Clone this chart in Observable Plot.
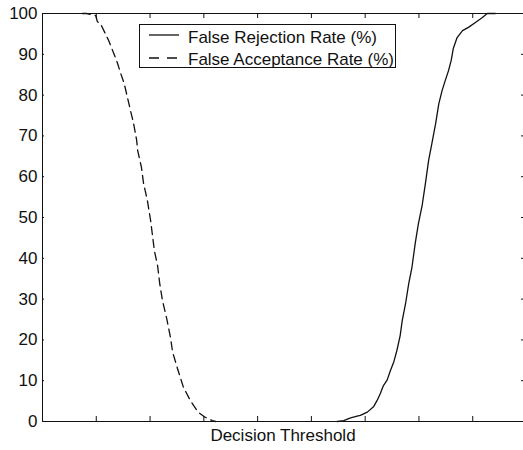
<!DOCTYPE html>
<html>
<head>
<meta charset="utf-8">
<script src="https://cdn.jsdelivr.net/npm/d3@7"></script>
<script src="https://cdn.jsdelivr.net/npm/@observablehq/plot@0.6"></script>
<style>
  html, body { margin: 0; padding: 0; background: #fff; }
  #wrap { position: relative; width: 523px; height: 450px; overflow: hidden; }
  #legend { position: absolute; left: 139px; top: 24px; }
</style>
</head>
<body>
<div id="wrap"><div id="chart"></div><div id="legend"></div></div>
<script>
// Tick positions
const xTicks = [0, 1, 2, 3, 4, 5, 6, 7, 8, 9];
const yTicks = [0, 10, 20, 30, 40, 50, 60, 70, 80, 90, 100];

// False Acceptance Rate (%) — dashed
const farThreshold = [0.74, 0.82, 0.99, 1.02, 1.08, 1.17, 1.23, 1.32, 1.39, 1.45, 1.52, 1.58, 1.64, 1.69, 1.75, 1.77, 1.84, 1.88, 1.95, 2.01, 2.05, 2.08, 2.14, 2.18, 2.23, 2.31, 2.38, 2.42, 2.51, 2.62, 2.75, 2.90, 3.03, 3.16, 3.22];
const farValue     = [100, 100, 99.5, 98, 97.5, 95, 93.4, 90.4, 88, 85.5, 82.8, 79.4, 76, 73.3, 69, 66.4, 62.3, 58.3, 54.2, 49.3, 45.1, 41.9, 38.2, 33.8, 29.7, 25.2, 20.6, 17, 13, 8.4, 5.1, 2.2, 1, 0.2, 0];

// False Rejection Rate (%) — solid
const frrThreshold = [5.48, 5.60, 5.73, 5.85, 5.91, 6.04, 6.16, 6.22, 6.28, 6.34, 6.41, 6.47, 6.53, 6.59, 6.65, 6.69, 6.75, 6.81, 6.87, 6.93, 6.99, 7.06, 7.12, 7.18, 7.24, 7.31, 7.37, 7.43, 7.49, 7.55, 7.60, 7.64, 7.71, 7.81, 7.92, 8.05, 8.18, 8.27, 8.42];
const frrValue     = [0, 0.2, 0.9, 1.3, 1.5, 2.3, 3.7, 5.1, 6.8, 8.8, 10.2, 12.5, 14.5, 17.4, 21, 24.8, 28.8, 33.8, 37.8, 43.6, 48.5, 53, 58.3, 64, 68.1, 73, 77.9, 81.1, 83.6, 86, 88.5, 91.5, 94.1, 95.8, 96.6, 97.8, 99, 100, 100];

const xLabel = "Decision Threshold";
const seriesNames = ["False Rejection Rate (%)", "False Acceptance Rate (%)"];

const far = farThreshold.map((t, i) => ({t, v: farValue[i]}));
const frr = frrThreshold.map((t, i) => ({t, v: frrValue[i]}));

const ink = "#111";
const chart = Plot.plot({
  width: 523,
  height: 450,
  marginTop: 13,
  marginBottom: 29,
  marginLeft: 42,
  marginRight: 0,
  style: {fontFamily: "'Liberation Sans', Arial, sans-serif", fontSize: "17px", color: ink, background: "#fff"},
  x: {domain: [0, 9], range: [42, 526], axis: null},
  y: {domain: [0, 100], axis: null},
  marks: [
    Plot.frame({stroke: ink, strokeWidth: 1}),
    // inward ticks, MATLAB style
    Plot.tickX(xTicks, {x: d => d, stroke: ink, insetTop: 403}),
    Plot.tickX(xTicks, {x: d => d, stroke: ink, insetBottom: 403}),
    Plot.tickY(yTicks, {y: d => d, stroke: ink, insetRight: 479}),
    Plot.tickY(yTicks, {y: d => d, stroke: ink, insetLeft: 479}),
    Plot.axisY({ticks: yTicks, tickSize: 0, tickPadding: 5, fontSize: 17, label: null}),
    Plot.text([xLabel], {text: d => d, frameAnchor: "bottom", dy: 19, fontSize: 17}),
    Plot.line(far, {x: "t", y: "v", stroke: ink, strokeWidth: 1.3, strokeDasharray: "8,5"}),
    Plot.line(frr, {x: "t", y: "v", stroke: ink, strokeWidth: 1.3})
  ]
});
document.getElementById("chart").appendChild(chart);

// Legend (inside the axes box)
const lg = d3.select("#legend").append("svg").attr("width", 257).attr("height", 44)
  .style("display", "block")
  .style("font-family", "'Liberation Sans', Arial, sans-serif").style("font-size", "17px");
lg.append("rect").attr("x", 0.5).attr("y", 0.5).attr("width", 256).attr("height", 43)
  .attr("fill", "#fff").attr("stroke", ink);
const rows = [{y: 11, tb: 19, dash: null}, {y: 34, tb: 40.5, dash: "10,8"}];
rows.forEach((r, i) => {
  lg.append("line").attr("x1", 10).attr("x2", 40).attr("y1", r.y).attr("y2", r.y)
    .attr("stroke", ink).attr("stroke-width", 1.3).attr("stroke-dasharray", r.dash);
  lg.append("text").attr("x", 49).attr("y", r.tb).attr("fill", ink).text(seriesNames[i]);
});
</script>
</body>
</html>
